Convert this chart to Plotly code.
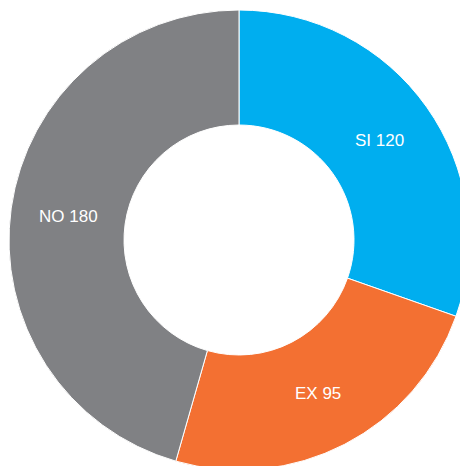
import math
import plotly.graph_objects as go

labels = ["SI", "EX", "NO"]
values = [120, 95, 180]
colors = ["#00AEEF", "#F37032", "#808184"]

W, H = 468, 466
HOLE = 0.5
# page body has an 8px default margin; compensate so the donut sits at (239,240), r=230
cx, cy, r = 239 - 8, 240 - 8, 230

fig = go.Figure(go.Pie(
    labels=labels,
    values=values,
    hole=HOLE,
    sort=False,
    direction="clockwise",
    rotation=0,
    marker=dict(colors=colors, line=dict(color="white", width=1)),
    textinfo="none",
    hoverinfo="label+value",
    domain=dict(x=[(cx - r) / W, (cx + r) / W],
                y=[1 - (cy + r) / H, 1 - (cy - r) / H]),
    showlegend=False,
))

# labels centred in each slice (mid-angle, mid-radius of the ring)
total = sum(values)
rm = r * (1 + HOLE) / 2
acc = 0.0
for lab, val in zip(labels, values):
    mid = (acc + val / 2) / total * 2 * math.pi
    acc += val
    px = cx + rm * math.sin(mid)
    py = cy - rm * math.cos(mid)
    fig.add_annotation(
        x=px / W, y=1 - py / H, xref="paper", yref="paper",
        text=f"{lab} {val}", showarrow=False,
        xanchor="center", yanchor="middle",
        font=dict(family="Liberation Sans, Arial, sans-serif", size=17, color="white"),
    )

fig.update_layout(
    width=W, height=H,
    margin=dict(l=0, r=0, t=0, b=0),
    paper_bgcolor="white",
    plot_bgcolor="white",
)
fig.write_html("out.html")
